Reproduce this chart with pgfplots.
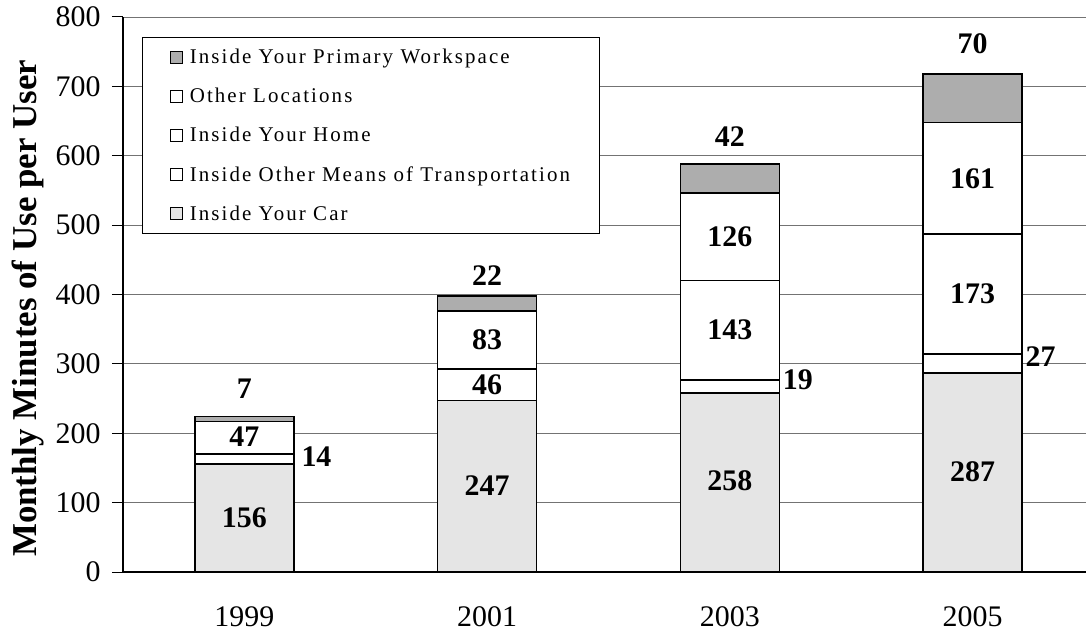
\documentclass[border=0pt]{standalone}
\usepackage{fontspec}
\setmainfont{Liberation Serif}
\newfontfamily\legfont[LetterSpace=10]{Liberation Serif}
\usepackage{pgfplots}
\pgfplotsset{compat=1.18}
\usepackage{pgfplotstable}

\pgfplotstableread{
x car trans home other work
0 156 14 47 0 7
1 247 46 83 0 22
2 258 19 143 126 42
3 287 27 173 161 70
}\datatab

\pgfplotstableread{
x y lab
0 264 7
0 195 47
0.297 167 14
0 78 156
1 427 22
1 334.5 83
1 270 46
1 124 247
2 627 42
2 483 126
2 348.5 143
2.28 277 19
2 131 258
3 761 70
3 567.5 161
3 400.5 173
3.28 311 27
3 144 287
}\labtab

\definecolor{cargray}{gray}{0.90}
\definecolor{workgray}{gray}{0.68}

\begin{document}
\begin{tikzpicture}
\begin{axis}[
  name=main,
  scale only axis, width=971bp, height=555bp,
  xmin=-0.5, xmax=3.5, ymin=0, ymax=800,
  ybar stacked, bar width=99bp,
  xtick={0,1,2,3}, xticklabels={1999,2001,2003,2005},
  ytick={0,100,...,800},
  axis x line*=bottom, axis y line*=left,
  x axis line style={line width=1.6bp,black},
  y axis line style={line width=1.2bp,black},
  ymajorgrids, grid style={black!55, line width=0.8bp},
  major x tick style={draw=none},
  ytick style={line width=1bp,black},
  tick align=outside, major tick length=11bp,
  /pgf/number format/assume math mode=true,
  ticklabel style={font=\fontsize{30}{35}\selectfont},
  xticklabel style={yshift=-20bp},
  yticklabel style={xshift=-8bp},
  ylabel={Monthly Minutes of Use per User},
  ylabel style={font=\fontsize{35}{40}\selectfont\bfseries,
    at={(axis description cs:0,0.475)}, anchor=base, yshift=86bp},
  legend image code/.code={\draw[#1, line width=1bp] (0bp,-6bp) rectangle (12bp,6bp); \path (17bp,0bp);},
  reverse legend,
  legend cell align=left,
  legend style={at={(rel axis cs:0.0196,0.964)}, anchor=north west,
    font=\fontsize{21}{25}\legfont, draw=black, line width=1bp,
    row sep=19bp, inner xsep=27bp, inner ysep=10bp},
]
\addplot[fill=cargray, draw=black, line width=1.6bp] table[x=x,y=car]{\datatab};
\addplot[fill=white, draw=black, line width=1.6bp] table[x=x,y=trans]{\datatab};
\addplot[fill=white, draw=black, line width=1.6bp] table[x=x,y=home]{\datatab};
\addplot[fill=white, draw=black, line width=1.6bp] table[x=x,y=other]{\datatab};
\addplot[fill=workgray, draw=black, line width=1.6bp] table[x=x,y=work]{\datatab};
\legend{Inside Your Car, Inside Other Means of Transportation, Inside Your Home, Other Locations, Inside Your Primary Workspace}
\end{axis}
\begin{axis}[
  scale only axis, width=971bp, height=555bp,
  xmin=-0.5, xmax=3.5, ymin=0, ymax=800,
  hide axis, clip=false,
]
\addplot[only marks, mark=none, nodes near coords, point meta=explicit symbolic,
  nodes near coords style={anchor=center, inner sep=0pt, font=\fontsize{30}{34}\selectfont\bfseries}]
  table[x=x,y=y,meta=lab]{\labtab};
\end{axis}
\pgfresetboundingbox
\path[use as bounding box] ([xshift=-123bp,yshift=-61bp]main.south west) rectangle ++(1086bp,633bp);
\end{tikzpicture}
\end{document}
